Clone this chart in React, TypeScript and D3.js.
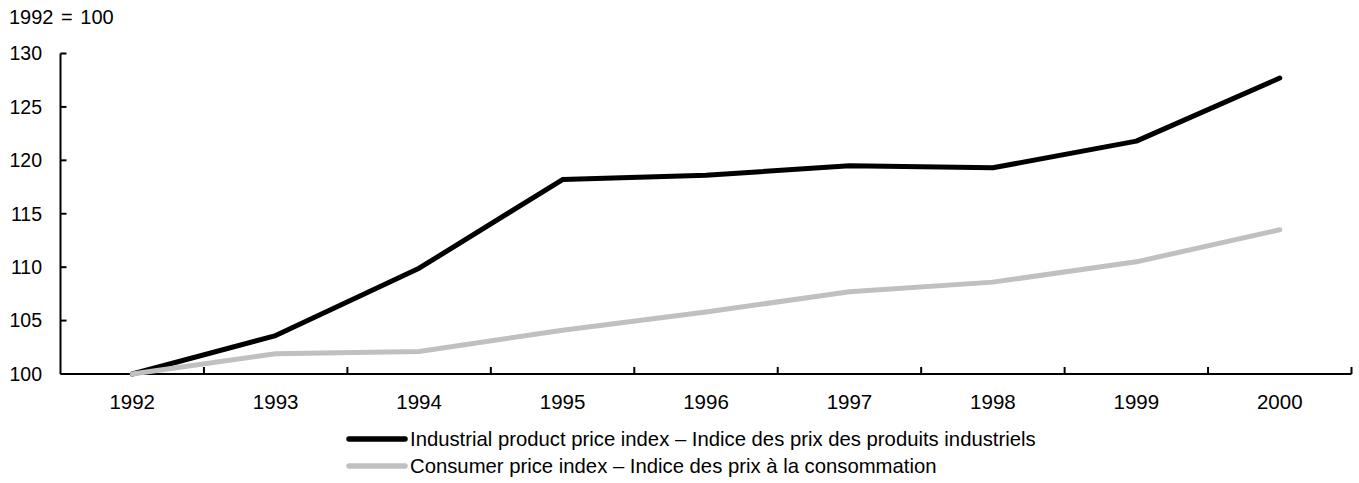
import React from "react";
import * as d3 from "d3";

const years = ["1992", "1993", "1994", "1995", "1996", "1997", "1998", "1999", "2000"];
const industrial = [100, 103.6, 109.9, 118.2, 118.6, 119.5, 119.3, 121.8, 127.7];
const consumer = [100, 101.9, 102.1, 104.1, 105.8, 107.7, 108.6, 110.5, 113.5];
const yTicks = [100, 105, 110, 115, 120, 125, 130];
const seriesNames = [
  "Industrial product price index – Indice des prix des produits industriels",
  "Consumer price index – Indice des prix à la consommation",
];
const unitLabel = "1992 = 100";

const W = 1359;
const H = 483;
const left = 60.5;
const right = 1351.5;
const top = 53.5;
const bottom = 374;
const font = "'Liberation Sans', Arial, sans-serif";

export default function App() {
  const x = d3.scaleBand<string>().domain(years).range([left, right]).padding(0);
  const y = d3.scaleLinear().domain([100, 130]).range([bottom, top]);
  const line = d3
    .line<number>()
    .x((_, i) => (x(years[i]) as number) + x.bandwidth() / 2)
    .y((d) => y(d));

  const series = [
    { name: seriesNames[0], values: industrial, color: "#000000" },
    { name: seriesNames[1], values: consumer, color: "#c0c0c0" },
  ];

  const boundaries = years.map((yr) => (x(yr) as number) + x.bandwidth());

  return (
    <svg
      width={W}
      height={H}
      style={{ position: "absolute", left: 0, top: 0, display: "block", background: "#fff" }}
      fontFamily={font}
    >
      <text x={9} y={23.5} fontSize={20} fill="#000" wordSpacing={2}>
        {unitLabel}
      </text>
      {/* y axis */}
      <line x1={left} x2={left} y1={top} y2={bottom} stroke="#000" strokeWidth={2} />
      {yTicks.map((t) => (
        <g key={t}>
          <line x1={left} x2={left + 6} y1={y(t)} y2={y(t)} stroke="#000" strokeWidth={2} />
          <text x={42} y={y(t)} dy="0.35em" textAnchor="end" fontSize={19.5} fill="#000">
            {t}
          </text>
        </g>
      ))}
      {/* x axis */}
      <line x1={left} x2={right} y1={bottom} y2={bottom} stroke="#000" strokeWidth={2} />
      {boundaries.map((b, i) => (
        <line key={i} x1={b} x2={b} y1={bottom} y2={bottom - 7} stroke="#000" strokeWidth={2} />
      ))}
      {years.map((yr) => (
        <text
          key={yr}
          x={(x(yr) as number) + x.bandwidth() / 2}
          y={409}
          textAnchor="middle"
          fontSize={20.5}
          fill="#000"
        >
          {yr}
        </text>
      ))}
      {/* lines */}
      {series.map((s) => (
        <path
          key={s.name}
          d={line(s.values) as string}
          fill="none"
          stroke={s.color}
          strokeWidth={5}
          strokeLinejoin="round"
          strokeLinecap="round"
        />
      ))}
      {/* legend */}
      {series.map((s, i) => (
        <g key={s.name} transform={`translate(0, ${439 + i * 27})`}>
          <line x1={349} x2={405} y1={0} y2={0} stroke={s.color} strokeWidth={5.5} strokeLinecap="round" />
          <text x={410} y={0} dy="0.35em" fontSize={20.3} fill="#000">
            {s.name}
          </text>
        </g>
      ))}
    </svg>
  );
}
